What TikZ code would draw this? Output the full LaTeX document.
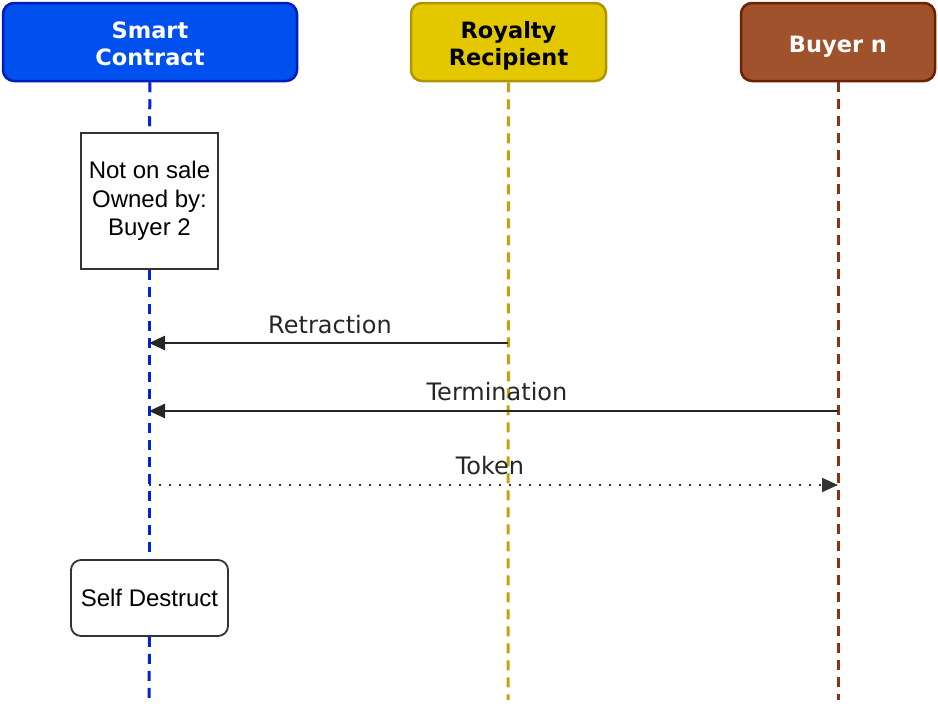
\documentclass[tikz,border=0pt]{standalone}
\usepackage{fontspec}
\setmainfont{Liberation Sans}
\newfontfamily\dvs{DejaVu Sans}
\usetikzlibrary{arrows.meta}
\definecolor{scfill}{HTML}{0050EF}
\definecolor{scline}{HTML}{001DBC}
\definecolor{rrfill}{HTML}{E3C800}
\definecolor{rrline}{HTML}{B09500}
\definecolor{bnfill}{HTML}{A0522D}
\definecolor{bnline}{HTML}{6D1F00}
\definecolor{scdash}{HTML}{0022DD}
\definecolor{rrdash}{HTML}{C4A20A}
\definecolor{bndash}{HTML}{8A3212}
\newcommand{\hdrtext}[1]{\raisebox{-5pt}[\height][\depth]{\begin{tabular}{@{}c@{}}#1\end{tabular}}}
\tikzset{
  header/.style={rounded corners=11pt, line width=2.5pt, minimum width=#1, minimum height=78pt,
     inner sep=0pt, font=\dvs\bfseries\fontsize{22.5}{27}\selectfont},
  life/.style={line width=3pt, dash pattern=on 10pt off 7pt},
  notebox/.style={draw=black!80, line width=1.8pt, fill=white, inner sep=0pt, align=center,
     font=\fontsize{24}{28.5}\selectfont},
  msg/.style={line width=2.4pt, draw=black!85, -{Triangle[length=16pt,width=14pt]}},
  dotmsg/.style={line width=2pt, draw=black!80, dash pattern=on 2pt off 8pt, -{Triangle[length=16pt,width=14pt]}},
  lbl/.style={font=\dvs\fontsize{24}{28}\selectfont, text=black!85, inner sep=0pt},
}
\begin{document}
\begin{tikzpicture}[x=1pt,y=-1pt]
\useasboundingbox (0,0) rectangle (938,704);
% headers
\node[header=294pt, draw=scline, fill=scfill, text=white] (sc) at (150,42) {\hdrtext{Smart\\Contract}};
\node[header=195pt, draw=rrline, fill=rrfill, text=black] (rr) at (508.5,42) {\hdrtext{Royalty\\Recipient}};
\node[header=194pt, draw=bnline, fill=bnfill, text=white] (bn) at (838,42) {\hdrtext{Buyer n}};
% activation boxes
\node[notebox, minimum width=137pt, minimum height=136pt] (note) at (149.5,201) {Not on sale\\Owned by:\\Buyer 2};
\node[notebox, rounded corners=10pt, minimum width=157pt, minimum height=76pt] (sd) at (149.5,598) {Self Destruct};
% lifeline ends
\coordinate (scend) at (149,700);
\coordinate (rrend) at (508,700);
\coordinate (bnend) at (838,700);
% lifelines
\draw[life, scdash] (sc.south) -- (note.north);
\draw[life, scdash] (note.south) -- (sd.north);
\draw[life, scdash] (sd.south) -- (scend);
\draw[life, rrdash] (rr.south) -- (rrend);
\draw[life, bndash] (bn.south) -- (bnend);
% message points
\coordinate (sc1) at (149,343);
\coordinate (rr1) at (508,343);
\coordinate (sc2) at (149,411);
\coordinate (bn2) at (838,411);
\coordinate (sc3) at (149,485);
\coordinate (bn3) at (838,485);
\draw[msg] (rr1) -- (sc1);
\draw[msg] (bn2) -- (sc2);
\draw[dotmsg] (sc3) -- (bn3);
\node[lbl] (l1) at (330,325) {Retraction};
\node[lbl] (l2) at (497,392) {Termination};
\node[lbl] (l3) at (490,466) {Token};
\end{tikzpicture}
\end{document}
